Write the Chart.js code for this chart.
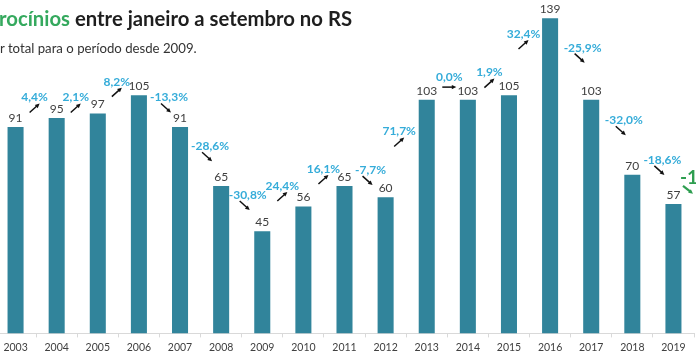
<!DOCTYPE html>
<html>
<head>
<meta charset="utf-8">
<script src="https://cdn.jsdelivr.net/npm/chart.js@4.4.0/dist/chart.umd.min.js"></script>
<style>
body { margin: 0; width: 696px; height: 358px; overflow: hidden; background: #fff; position: relative; font-family: Lato, sans-serif; }
#wrap { position: absolute; left: -5px; top: 0; width: 710px; height: 358px; }
#titulo { position: absolute; left: -1px; top: 6px; font-size: 20.3px; font-weight: bold; color: #1e1e1e; white-space: nowrap; }
#titulo span { color: #35a95e; }
#sub { position: absolute; left: 0; top: 40px; font-size: 13.2px; color: #333; white-space: nowrap; }
</style>
</head>
<body>
<div id="wrap"><canvas id="grafico"></canvas></div>
<div id="titulo"><span>rocínios</span> entre janeiro a setembro no RS</div>
<div id="sub">r total para o período desde 2009.</div>
<script>
const anos = ['2003','2004','2005','2006','2007','2008','2009','2010','2011','2012','2013','2014','2015','2016','2017','2018','2019'];
const valores = [91, 95, 97, 105, 91, 65, 45, 56, 65, 60, 103, 103, 105, 139, 103, 70, 57];
const variacoes = ['4,4%','2,1%','8,2%','-13,3%','-28,6%','-30,8%','24,4%','16,1%','-7,7%','71,7%','0,0%','1,9%','32,4%','-25,9%','-32,0%','-18,6%'];
const variacaoFinal = '-1'; // cortado na borda direita

// onde fica cada rotulo de variacao: [altura na escala y, deslocamento em px do meio entre as barras]
const posVariacoes = [[104,-1.5],[104,-1.5],[111,-1.5],[104,9.5],[82.5,9.5],[61,6],[65,-0.5],[72.5,-0.5],[72,5.5],
                      [89,-7],[113,2],[115,1],[132,-6],[126,12],[94,12],[76.5,9.5]];

function seta(ctx, x1, y1, x2, y2, cor, larg) {
    const ang = Math.atan2(y2 - y1, x2 - x1), h = 5;
    ctx.strokeStyle = cor;
    ctx.fillStyle = cor;
    ctx.lineWidth = larg;
    ctx.beginPath();
    ctx.moveTo(x1, y1);
    ctx.lineTo(x2 - Math.cos(ang) * 3, y2 - Math.sin(ang) * 3);
    ctx.stroke();
    ctx.beginPath();
    ctx.moveTo(x2, y2);
    ctx.lineTo(x2 - h * Math.cos(ang - 0.45), y2 - h * Math.sin(ang - 0.45));
    ctx.lineTo(x2 - h * Math.cos(ang + 0.45), y2 - h * Math.sin(ang + 0.45));
    ctx.closePath();
    ctx.fill();
}

const rotulos = {
    id: 'rotulos',
    afterDatasetsDraw(chart) {
        const ctx = chart.ctx, x = chart.scales.x, y = chart.scales.y;
        const passo = x.getPixelForValue(1) - x.getPixelForValue(0);
        ctx.save();
        ctx.textAlign = 'center';
        ctx.textBaseline = 'middle';
        ctx.font = '12px Lato';
        ctx.fillStyle = '#404040';
        valores.forEach((v, i) => ctx.fillText(v, x.getPixelForValue(i), y.getPixelForValue(v) - 9));

        ctx.font = 'bold 12px Lato';
        variacoes.forEach((t, i) => {
            const meio = x.getPixelForValue(i) + passo / 2;
            const lx = meio + posVariacoes[i][1], ly = y.getPixelForValue(posVariacoes[i][0]);
            ctx.fillStyle = '#35acd9';
            ctx.fillText(t, lx, ly);
            const d = parseFloat(t.replace(',', '.'));
            const ax = lx + (d < 0 ? -3 : 0), ay = ly + 10;
            if (d > 0) seta(ctx, ax - 5, ay + 5, ax + 5, ay - 4, '#111', 1.5);
            else if (d < 0) seta(ctx, ax - 5, ay - 4, ax + 5, ay + 5, '#111', 1.5);
            else seta(ctx, ax - 7, ay, ax + 7, ay, '#111', 1.5);
        });

        // variacao de 2020 (so aparece o comeco)
        const gx = x.getPixelForValue(16) + passo / 2 - 14, gy = y.getPixelForValue(68.6);
        ctx.textAlign = 'left';
        ctx.font = 'bold 19px Lato';
        ctx.fillStyle = '#2e9e50';
        ctx.fillText(variacaoFinal, gx, gy);
        seta(ctx, gx + 3, gy + 8, gx + 13, gy + 16, '#2e9e50', 2.2);
        ctx.restore();
    }
};

new Chart(document.getElementById('grafico'), {
    type: 'bar',
    data: {
        labels: anos,
        datasets: [{
            data: valores,
            backgroundColor: '#31849b',
            categoryPercentage: 1,
            barPercentage: 0.39
        }]
    },
    options: {
        responsive: true,
        maintainAspectRatio: false,
        animation: false,
        layout: { padding: { left: 0, right: 11, top: 0, bottom: 0 } },
        plugins: { legend: { display: false }, tooltip: { enabled: false } },
        scales: {
            x: {
                border: { color: '#d9d9d9' },
                grid: { drawOnChartArea: false, tickLength: 4, color: '#d9d9d9' },
                ticks: { color: '#404040', font: { family: 'Lato', size: 10.5 }, padding: 4, maxRotation: 0 }
            },
            y: { display: false, min: 0, max: 147 }
        }
    },
    plugins: [rotulos]
});
</script>
</body>
</html>
